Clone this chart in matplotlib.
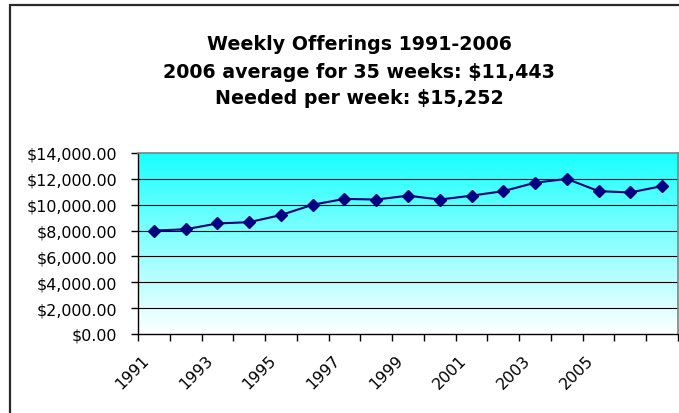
import matplotlib
matplotlib.use("Agg")
import matplotlib.pyplot as plt
import numpy as np
from matplotlib.colors import LinearSegmentedColormap
from matplotlib.patches import Rectangle
from matplotlib.ticker import FuncFormatter, FixedLocator
from matplotlib.transforms import ScaledTranslation

# ---- data ----
categories = ["1991", "1992", "1993", "1994", "1995", "1996", "1997", "1998",
              "1999", "2000", "2001", "2002", "2003", "2004", "2005", "2006", ""]
weekly_offerings = [8000, 8100, 8550, 8650, 9200, 10000, 10450, 10400, 10700,
                    10400, 10700, 11050, 11700, 12000, 11050, 10950, 11443]
shown_labels = ["1991", "1993", "1995", "1997", "1999", "2001", "2003", "2005"]
y_ticks = [0, 2000, 4000, 6000, 8000, 10000, 12000, 14000]
title_lines = ["Weekly Offerings 1991-2006",
               "2006 average for 35 weeks: $11,443",
               "Needed per week: $15,252"]

W, H = 679, 414
fig = plt.figure(figsize=(W / 100, H / 100), dpi=100)
fig.patch.set_facecolor("white")

# chart-area border (cropped on right and bottom)
fig.patches.append(Rectangle((9.5 / W, -0.2), 1.2, (H - 6) / H + 0.2,
                             transform=fig.transFigure, fill=False,
                             edgecolor="#2a2a2a", linewidth=1.6, zorder=0))

left, right = 138 / W, 678 / W
bottom, top = (H - 335) / H, (H - 154) / H
ax = fig.add_axes([left, bottom, right - left, top - bottom])

x = np.arange(len(categories))
ax.set_xlim(-0.5, len(categories) - 0.5)
ax.set_ylim(0, 14000)

# gradient background: cyan at top -> white at bottom
cmap = LinearSegmentedColormap.from_list("cw", ["#ffffff", "#1affff"])
grad = np.linspace(0, 1, 256).reshape(-1, 1)
ax.imshow(grad, cmap=cmap, aspect="auto", origin="lower",
          extent=[-0.5, len(categories) - 0.5, 0, 14000], zorder=0)

# gridlines
for v in y_ticks[1:-1]:
    ax.axhline(v, color="black", linewidth=0.8, zorder=1)

ax.plot(x, weekly_offerings, color="#000080", linewidth=1.5, marker="D",
        markersize=6.5, markerfacecolor="#000080", markeredgecolor="#000080",
        zorder=3)

# spines
for s in ["top", "right"]:
    ax.spines[s].set_color("#808080")
    ax.spines[s].set_linewidth(1.2)
for s in ["left", "bottom"]:
    ax.spines[s].set_color("black")
    ax.spines[s].set_linewidth(1.0)

# y axis
ax.set_yticks(y_ticks)
ax.yaxis.set_major_formatter(FuncFormatter(lambda v, p: f"${v:,.2f}"))
ax.tick_params(axis="y", direction="out", length=5, width=1, pad=10,
               labelsize=11.4, colors="black")

# x axis: ticks between categories, labels on every other category
ax.xaxis.set_major_locator(FixedLocator(np.arange(-0.5, len(categories), 1.0)))
ax.xaxis.set_major_formatter(FuncFormatter(lambda v, p: ""))
label_pos = [categories.index(l) for l in shown_labels]
ax.xaxis.set_minor_locator(FixedLocator(label_pos))
ax.set_xticklabels(shown_labels, minor=True)
ax.tick_params(axis="x", which="major", direction="out", length=5, width=1)
ax.tick_params(axis="x", which="minor", length=0, pad=17, labelsize=11.4)
offset = ScaledTranslation(-7 / 100, 0, fig.dpi_scale_trans)
for lab in ax.get_xticklabels(minor=True):
    lab.set_rotation(45)
    lab.set_ha("right")
    lab.set_va("center")
    lab.set_rotation_mode("anchor")
    lab.set_transform(lab.get_transform() + offset)

# title
cx = 359 / W
for i, (line, yc) in enumerate(zip(title_lines, [45, 72, 99])):
    fig.text(cx, 1 - yc / H, line, ha="center", va="center",
             fontsize=13.7, fontweight="bold", color="black")

fig.savefig("out.png", dpi=100, facecolor="white")
